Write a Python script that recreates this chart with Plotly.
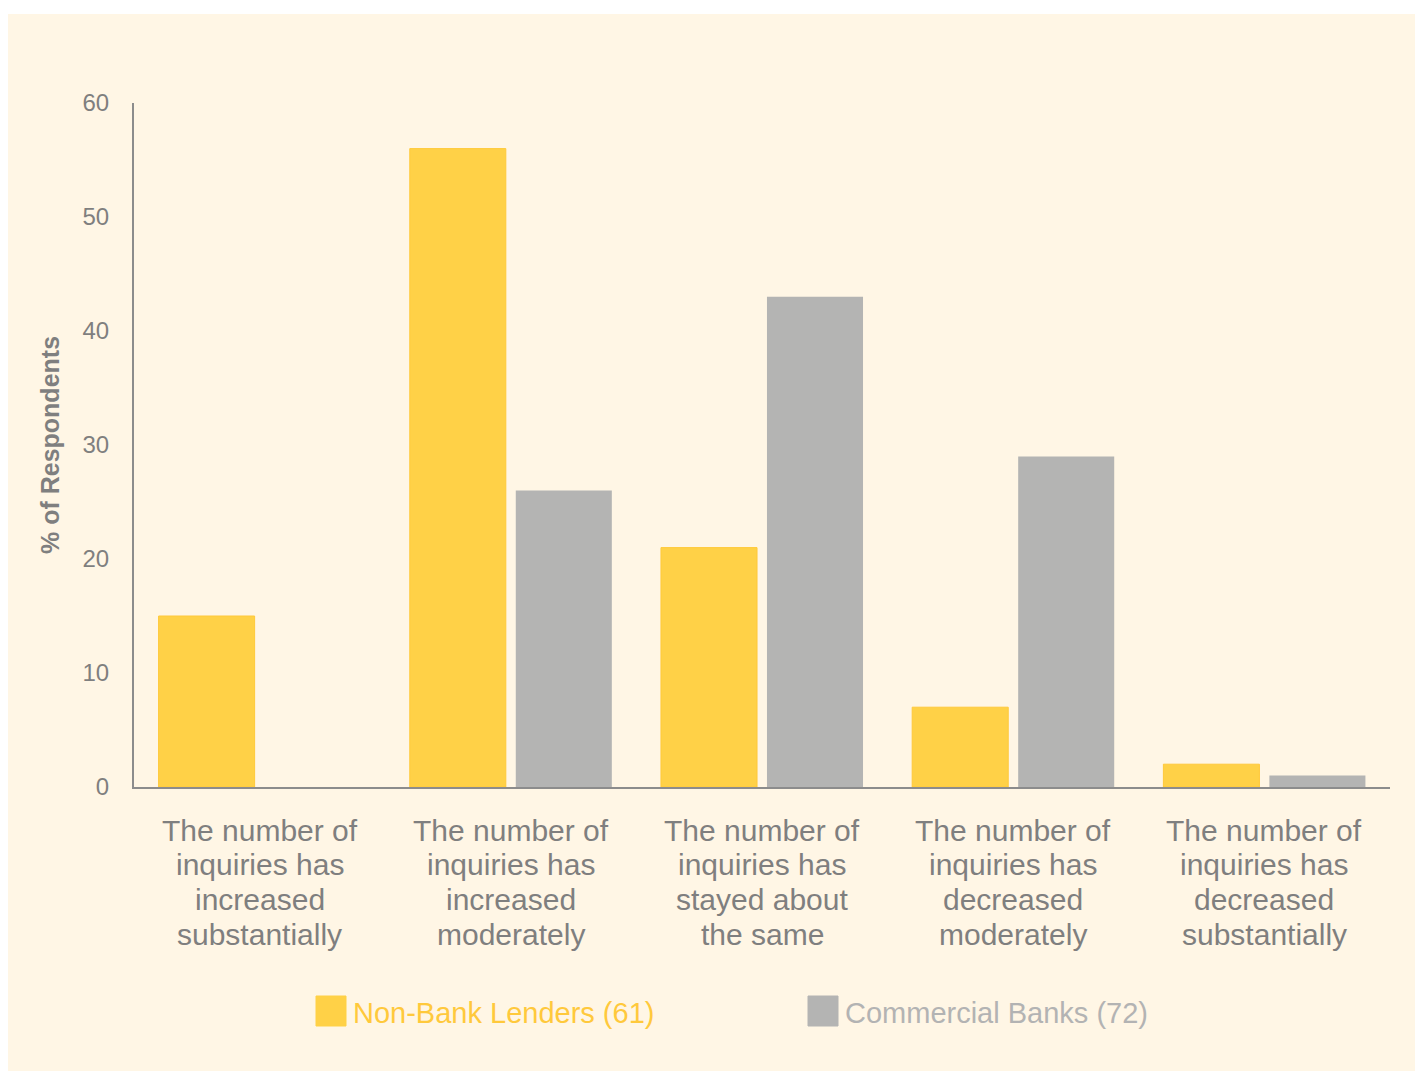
import plotly.graph_objects as go

# Survey categories and shares (% of respondents)
categories = [
    "The number of inquiries has increased substantially",
    "The number of inquiries has increased moderately",
    "The number of inquiries has stayed about the same",
    "The number of inquiries has decreased moderately",
    "The number of inquiries has decreased substantially",
]
category_lines = [
    ["The number of", "inquiries has", "increased", "substantially"],
    ["The number of", "inquiries has", "increased", "moderately"],
    ["The number of", "inquiries has", "stayed about", "the same"],
    ["The number of", "inquiries has", "decreased", "moderately"],
    ["The number of", "inquiries has", "decreased", "substantially"],
]
non_bank = [15, 56, 21, 7, 2]
commercial = [0, 26, 43, 29, 1]
series_names = ["Non-Bank Lenders (61)", "Commercial Banks (72)"]
y_ticks = [0, 10, 20, 30, 40, 50, 60]

YELLOW = "#FFD147"
GRAY = "#B4B4B3"
TEXT = "#7F7F7F"
CREAM = "#FFF6E5"
FONT = "Liberation Sans, Arial, sans-serif"

W, H = 1415, 1063
L, R, T, B = 126, 33, 95, 284
pw, ph = W - L - R, H - T - B


def px_x(p):
    return (p - L) / pw


def px_y(p):
    return (H - B - p) / ph


fig = go.Figure()
fig.add_trace(go.Bar(
    x=categories, y=non_bank, name=series_names[0],
    marker=dict(color=YELLOW, line=dict(color="#FFC93A", width=1)),
    showlegend=False,
))
fig.add_trace(go.Bar(
    x=categories, y=commercial, name=series_names[1],
    marker=dict(color=GRAY, line=dict(width=0)),
    showlegend=False,
))

shapes = [
    # cream panel behind everything
    dict(type="rect", xref="paper", yref="paper", layer="below",
         x0=px_x(0), x1=px_x(1440), y0=px_y(1090), y1=px_y(6),
         fillcolor=CREAM, line=dict(width=0)),
]
annotations = []

# category labels, one line each for the tighter line spacing
for cat, lines in zip(categories, category_lines):
    for i, line in enumerate(lines):
        annotations.append(dict(xref="x", yref="paper", x=cat, y=px_y(822 + 34.7 * i),
                                xanchor="center", yanchor="middle", showarrow=False,
                                text=line, font=dict(family=FONT, size=30, color=TEXT)))

# legend drawn by hand so the swatches can be large
legend_items = [(308, YELLOW, "#FFC93C", series_names[0]), (800, GRAY, "#B3B3B3", series_names[1])]
for x0, fill, tcol, label in legend_items:
    shapes.append(dict(type="rect", xref="paper", yref="paper",
                       x0=px_x(x0), x1=px_x(x0 + 30), y0=px_y(1018), y1=px_y(988),
                       fillcolor=fill, line=dict(color=fill, width=1)))
    annotations.append(dict(xref="paper", yref="paper", x=px_x(x0 + 35), y=px_y(1005),
                            xanchor="left", yanchor="middle", showarrow=False,
                            text=label, font=dict(family=FONT, size=29, color=tcol)))

fig.update_layout(
    width=W, height=H,
    margin=dict(l=L, r=R, t=T, b=B),
    paper_bgcolor="white",
    plot_bgcolor="rgba(0,0,0,0)",
    barmode="group",
    bargap=0.156,
    bargroupgap=0.094,
    font=dict(family=FONT, color=TEXT),
    shapes=shapes,
    annotations=annotations,
    xaxis=dict(
        showline=True, linecolor="#8C8C8C", linewidth=2,
        showgrid=False, ticks="", showticklabels=False,
    ),
    yaxis=dict(
        range=[0, 60], tickvals=y_ticks,
        showline=True, linecolor="#8C8C8C", linewidth=2,
        showgrid=False, zeroline=False, ticks="",
        ticklabelstandoff=18,
        tickfont=dict(size=24, color=TEXT),
        title=dict(text="<b>% of Respondents</b>", standoff=16,
                   font=dict(size=25, color=TEXT)),
    ),
)

fig.write_html("out.html")
